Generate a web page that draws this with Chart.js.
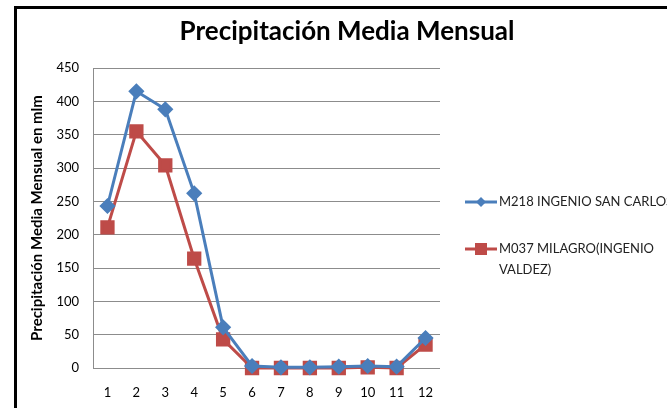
<!DOCTYPE html>
<html>
<head>
<meta charset="utf-8">
<script src="https://cdn.jsdelivr.net/npm/chart.js@4.4.0/dist/chart.umd.min.js"></script>
<style>
  html, body { margin: 0; padding: 0; background: #fff; }
  #wrap { width: 667px; height: 408px; }
</style>
</head>
<body>
<div id="wrap"><canvas id="myChart" width="667" height="408"></canvas></div>
<script>
const months = ['1','2','3','4','5','6','7','8','9','10','11','12'];
const sanCarlos = [243, 415, 388, 262, 61, 3, 1, 1, 2, 3, 2, 45];
const milagro = [211, 355, 304, 164, 43, 0, 0, 0, 0, 1, 0, 35];
const yTicks = [0, 50, 100, 150, 200, 250, 300, 350, 400, 450];
const seriesNames = [['M218 INGENIO SAN CARLOS'], ['M037 MILAGRO(INGENIO', 'VALDEZ)']];
const chartTitle = 'Precipitación Media Mensual';

const FONT = 'Lato, "Open Sans", sans-serif';
const ctx = document.getElementById('myChart').getContext('2d');

// white page + black frame that runs off the right/bottom edge, and the title
const framePlugin = {
    id: 'frame',
    beforeDraw(chart){
        const c = chart.ctx;
        c.save();
        c.fillStyle = '#fff';
        c.fillRect(0, 0, chart.width, chart.height);
        c.strokeStyle = '#000';
        c.lineWidth = 3;
        c.strokeRect(15.5, 7.5, 700, 450);
        c.fillStyle = '#000';
        c.font = 'bold 26px ' + FONT;
        c.textAlign = 'center';
        c.textBaseline = 'middle';
        c.fillText(chartTitle, 347, 32);
        c.restore();
    }
};

// legend drawn on the right, like the spreadsheet one
const sideLegend = {
    id: 'sideLegend',
    afterDraw(chart){
        const c = chart.ctx;
        const rows = [202, 249];
        chart.data.datasets.forEach(function(ds, i){
            const y = rows[i];
            c.save();
            c.strokeStyle = ds.borderColor;
            c.lineWidth = 3;
            c.beginPath();
            c.moveTo(465, y);
            c.lineTo(497, y);
            c.stroke();
            c.fillStyle = ds.backgroundColor;
            if (ds.pointStyle === 'rect') {
                c.fillRect(475, y - 6, 12, 12);
            } else {
                c.beginPath();
                c.moveTo(481, y - 5);
                c.lineTo(486, y);
                c.lineTo(481, y + 5);
                c.lineTo(476, y);
                c.closePath();
                c.fill();
            }
            c.fillStyle = '#222';
            c.font = '13px ' + FONT;
            c.textBaseline = 'middle';
            seriesNames[i].forEach(function(t, k){
                c.fillText(t, 499, y + k * 21);
            });
            c.restore();
        });
    }
};

new Chart(ctx, {
    type: 'line',
    data: {
        labels: months,
        datasets: [{
            label: seriesNames[0].join(' '),
            data: sanCarlos,
            borderColor: '#4A7EBB',
            backgroundColor: '#4A7EBB',
            borderWidth: 3,
            pointStyle: 'rectRot',
            pointRadius: 6,
            pointHoverRadius: 6,
            tension: 0,
            clip: false
        },
        {
            label: seriesNames[1].join(' '),
            data: milagro,
            borderColor: '#BE4B48',
            backgroundColor: '#BE4B48',
            borderWidth: 3,
            pointStyle: 'rect',
            pointRadius: 8,
            pointHoverRadius: 8,
            tension: 0,
            clip: false
        }]
    },
    options: {
        responsive: false,
        animation: false,
        layout: { padding: { left: 24, right: 227, top: 68, bottom: 0 } },
        plugins: {
            legend: { display: false },
            tooltip: { enabled: false },
            title: { display: false }
        },
        scales: {
            x: {
                offset: true,
                grid: { display: false, drawTicks: false },
                border: { display: false },
                afterFit: function(s){ s.height = 40; },
                ticks: { color: '#000', padding: 17, font: { family: FONT, size: 13 }, maxRotation: 0 }
            },
            y: {
                min: 0,
                max: 450,
                afterBuildTicks: function(s){ s.ticks = yTicks.map(function(v){ return { value: v }; }); },
                afterFit: function(s){ s.width = 69; },
                grid: { color: '#8c8c8c', lineWidth: 1, drawTicks: false },
                border: { color: '#8c8c8c' },
                ticks: { color: '#000', padding: 14, font: { family: FONT, size: 13 } },
                title: {
                    display: true,
                    text: 'Precipitación Media Mensual en mlm',
                    color: '#000',
                    font: { family: FONT, size: 15, weight: 'bold' },
                    padding: { top: 4, bottom: 0 }
                }
            }
        }
    },
    plugins: [framePlugin, sideLegend]
});
</script>
</body>
</html>
